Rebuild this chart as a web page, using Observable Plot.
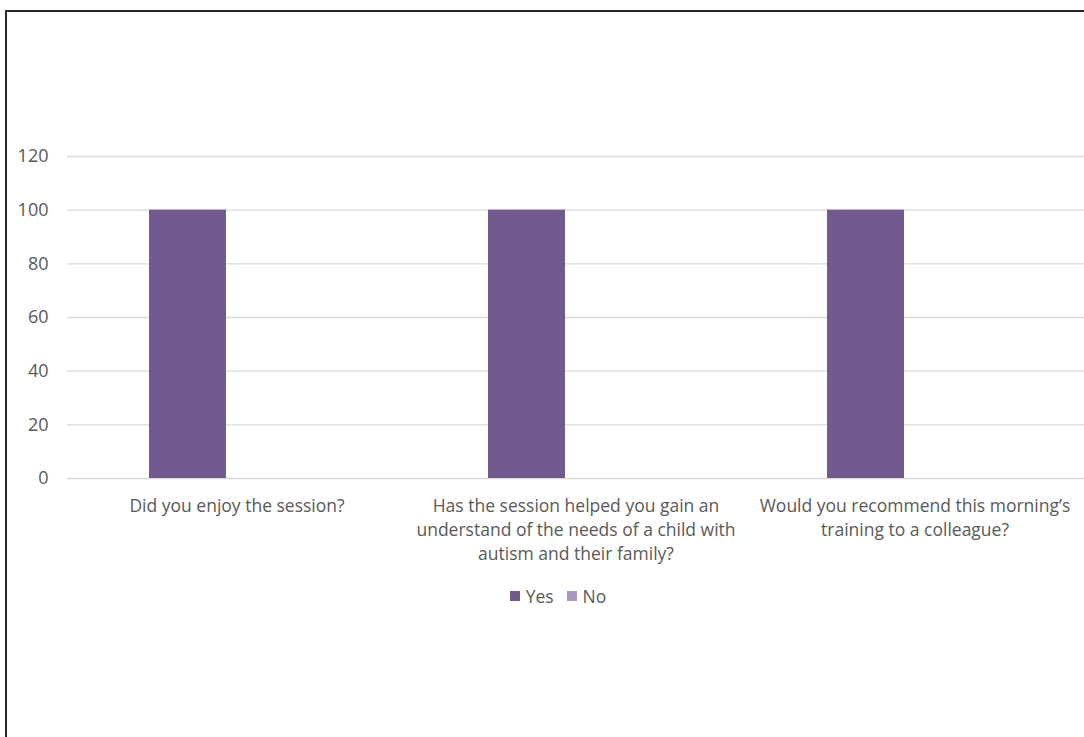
<!DOCTYPE html>
<html>
<head>
<meta charset="utf-8">
<script src="https://cdn.jsdelivr.net/npm/d3@7"></script>
<script src="https://cdn.jsdelivr.net/npm/@observablehq/plot@0.6"></script>
<style>
  html, body { margin: 0; padding: 0; background: #fff; }
  #wrap { position: relative; width: 1084px; height: 737px; overflow: hidden; font-family: "Open Sans", sans-serif; }
  #chart { position: absolute; left: 0; top: 0; }
  #frame { position: absolute; left: 5px; top: 10px; width: 2000px; height: 2000px; border-left: 2.5px solid #262626; border-top: 2.5px solid #262626; pointer-events: none; }
  #legend { position: absolute; left: 0; top: 584px; width: 1084px; display: flex; justify-content: center; gap: 13px; font-size: 17.5px; color: #595959; padding-left: 32px; box-sizing: border-box; }
  #legend span.item { display: inline-flex; align-items: center; gap: 6px; }
  #legend span.sw { display: inline-block; width: 10px; height: 10px; }
</style>
</head>
<body>
<div id="wrap">
  <div id="chart"></div>
  <div id="legend"></div>
  <div id="frame"></div>
</div>
<script>
const categories = [
  "Did you enjoy the session?",
  "Has the session helped you gain an understand of the needs of a child with autism and their family?",
  "Would you recommend this morning’s training to a colleague?"
];
const categoryLabels = [
  "Did you enjoy the session?",
  "Has the session helped you gain an\nunderstand of the needs of a child with\nautism and their family?",
  "Would you recommend this morning’s\ntraining to a colleague?"
];
const series = ["Yes", "No"];
const yesValues = [100, 100, 100];
const noValues = [0, 0, 0];
const seriesColors = ["#725a8f", "#a898c1"];
const yTicks = [0, 20, 40, 60, 80, 100, 120];

const rows = [];
categories.forEach((c, i) => {
  rows.push({category: c, series: "Yes", value: yesValues[i]});
  rows.push({category: c, series: "No", value: noValues[i]});
});
const labelOf = new Map(categories.map((c, i) => [c, categoryLabels[i]]));

const plot = Plot.plot({
  width: 1084,
  height: 570,
  marginLeft: 66,
  marginRight: 0,
  marginTop: 156,
  marginBottom: 92,
  style: {fontFamily: "Open Sans, sans-serif", fontSize: "17px", color: "#595959", background: "transparent"},
  fx: {domain: categories, padding: 0, label: null, axis: null},
  x: {domain: series, paddingInner: 0.2165, paddingOuter: 0.83, axis: null},
  y: {domain: [0, 120], label: null, axis: null},
  color: {domain: series, range: seriesColors},
  marks: [
    Plot.gridY(yTicks, {stroke: "#d9d9d9", strokeOpacity: 1, strokeWidth: 1.3}),
    Plot.barY(rows, {fx: "category", x: "series", y: "value", fill: "series"}),
    Plot.axisY(yTicks, {tickSize: 0, tickPadding: 19, label: null, fontSize: 18, fill: "#595959"}),
    Plot.axisFx({anchor: "bottom", tickSize: 0, tickPadding: 16, label: null, tickFormat: d => labelOf.get(d), lineHeight: 1.38, fontSize: 17.5, fill: "#595959"})
  ]
});
document.getElementById("chart").appendChild(plot);

const legend = document.getElementById("legend");
series.forEach((s, i) => {
  const item = document.createElement("span");
  item.className = "item";
  const sw = document.createElement("span");
  sw.className = "sw";
  sw.style.background = seriesColors[i];
  item.appendChild(sw);
  item.appendChild(document.createTextNode(s));
  legend.appendChild(item);
});
</script>
</body>
</html>
